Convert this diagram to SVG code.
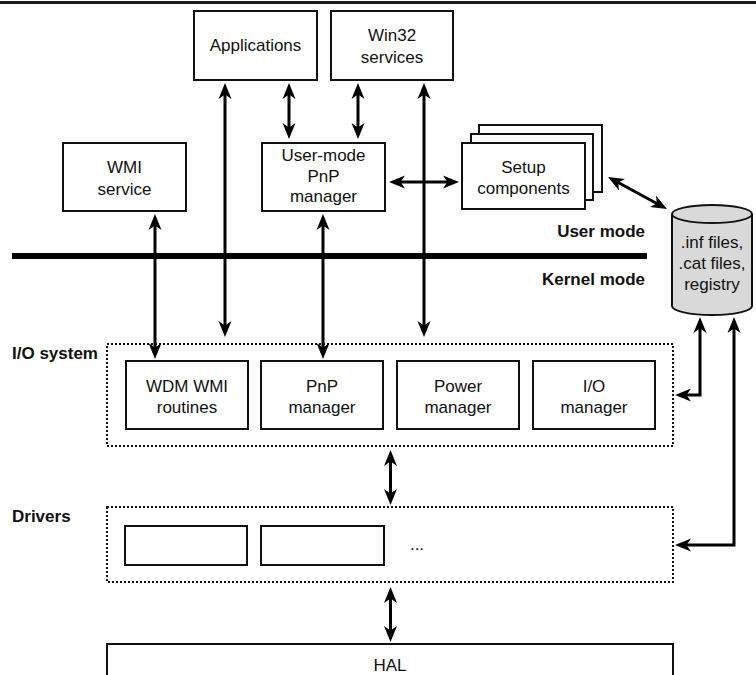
<svg xmlns="http://www.w3.org/2000/svg" width="756" height="675" viewBox="0 0 756 675">
  <style>
    .box { fill: #ffffff; stroke: #111111; stroke-width: 2; }
    .group { fill: none; stroke: #111111; stroke-width: 2; stroke-dasharray: 2 2; }
    .lbl { font-family: "Liberation Sans", Arial, sans-serif; font-size: 17px; fill: #111111; text-anchor: middle; }
    .bold { font-family: "Liberation Sans", Arial, sans-serif; font-size: 17px; font-weight: bold; fill: #111111; }
    .wire { fill: none; stroke: #000000; stroke-width: 3; marker-start: url(#head); marker-end: url(#head); }
  </style>
  <defs>
    <marker id="head" markerUnits="userSpaceOnUse" markerWidth="18" markerHeight="14" viewBox="0 -7 18 14" refX="5" refY="0" orient="auto-start-reverse">
      <path d="M16,0 L0,-6.5 L4.5,0 L0,6.5 Z" fill="#000000"/>
    </marker>
  </defs>

  <rect width="756" height="675" fill="#ffffff"/>

  <!-- page rule -->
  <rect x="0" y="1" width="756" height="3" fill="#1a1a1a"/>

  <!-- user / kernel boundary -->
  <rect x="12" y="253" width="635" height="6" fill="#000000"/>
  <text class="bold" x="645" y="237" text-anchor="end">User mode</text>
  <text class="bold" x="645" y="285" text-anchor="end">Kernel mode</text>
  <text class="bold" x="12" y="359">I/O system</text>
  <text class="bold" x="12" y="522">Drivers</text>

  <g id="applications">
    <rect class="box" x="194" y="11" width="123" height="69"/>
    <text class="lbl" x="255.5" y="51">Applications</text>
  </g>

  <g id="win32-services">
    <rect class="box" x="331" y="11" width="122" height="69"/>
    <text class="lbl" x="392" y="41">Win32</text>
    <text class="lbl" x="392" y="63">services</text>
  </g>

  <g id="wmi-service">
    <rect class="box" x="63" y="143" width="123" height="68"/>
    <text class="lbl" x="124.5" y="173">WMI</text>
    <text class="lbl" x="124.5" y="195">service</text>
  </g>

  <g id="user-mode-pnp">
    <rect class="box" x="262" y="143" width="123" height="68"/>
    <text class="lbl" x="323.5" y="161">User-mode</text>
    <text class="lbl" x="323.5" y="182">PnP</text>
    <text class="lbl" x="323.5" y="202">manager</text>
  </g>

  <g id="setup-components">
    <rect class="box" x="479" y="125" width="123" height="67"/>
    <rect class="box" x="471" y="134" width="122" height="66"/>
    <rect class="box" x="462" y="143" width="123" height="66"/>
    <text class="lbl" x="523.5" y="173">Setup</text>
    <text class="lbl" x="523.5" y="194">components</text>
  </g>

  <g id="inf-store">
    <path d="M672,214 V306 A40,9 0 0 0 752,306 V214" fill="#d9d9d9" stroke="#111111" stroke-width="2"/>
    <ellipse cx="712" cy="214" rx="40" ry="9" fill="#d9d9d9" stroke="#111111" stroke-width="2"/>
    <text class="lbl" x="712" y="248">.inf files,</text>
    <text class="lbl" x="712" y="269">.cat files,</text>
    <text class="lbl" x="712" y="290">registry</text>
  </g>

  <g id="io-system">
    <rect class="group" x="107" y="344" width="566" height="102"/>
    <g id="wdm-wmi">
      <rect class="box" x="126" y="361" width="122" height="68"/>
      <text class="lbl" x="187" y="392">WDM WMI</text>
      <text class="lbl" x="187" y="413">routines</text>
    </g>
    <g id="pnp-manager">
      <rect class="box" x="261" y="361" width="122" height="68"/>
      <text class="lbl" x="322" y="392">PnP</text>
      <text class="lbl" x="322" y="413">manager</text>
    </g>
    <g id="power-manager">
      <rect class="box" x="397" y="361" width="122" height="68"/>
      <text class="lbl" x="458" y="392">Power</text>
      <text class="lbl" x="458" y="413">manager</text>
    </g>
    <g id="io-manager">
      <rect class="box" x="533" y="361" width="122" height="68"/>
      <text class="lbl" x="594" y="392">I/O</text>
      <text class="lbl" x="594" y="413">manager</text>
    </g>
  </g>

  <g id="drivers">
    <rect class="group" x="107" y="507" width="566" height="75"/>
    <rect class="box" x="125" y="526" width="122" height="39"/>
    <rect class="box" x="261" y="526" width="123" height="39"/>
    <text class="lbl" x="417" y="550">...</text>
  </g>

  <g id="hal">
    <rect class="box" x="107" y="644" width="566" height="40"/>
    <text class="lbl" x="390" y="671">HAL</text>
  </g>

  <g id="connectors">
    <path class="wire" d="M155,225 V348"/>
    <path class="wire" d="M225,94 V326"/>
    <path class="wire" d="M289,94 V128"/>
    <path class="wire" d="M358,94 V128"/>
    <path class="wire" d="M424,94 V326"/>
    <path class="wire" d="M323,225 V348"/>
    <path class="wire" d="M400,182 H448"/>
    <path class="wire" d="M617.7,182.3 L657.3,203.7"/>
    <path class="wire" d="M700,328 V395 H686"/>
    <path class="wire" d="M734,328 V545 H686"/>
    <path class="wire" d="M390.5,461 V494"/>
    <path class="wire" d="M390.5,598 V631"/>
  </g>
</svg>
